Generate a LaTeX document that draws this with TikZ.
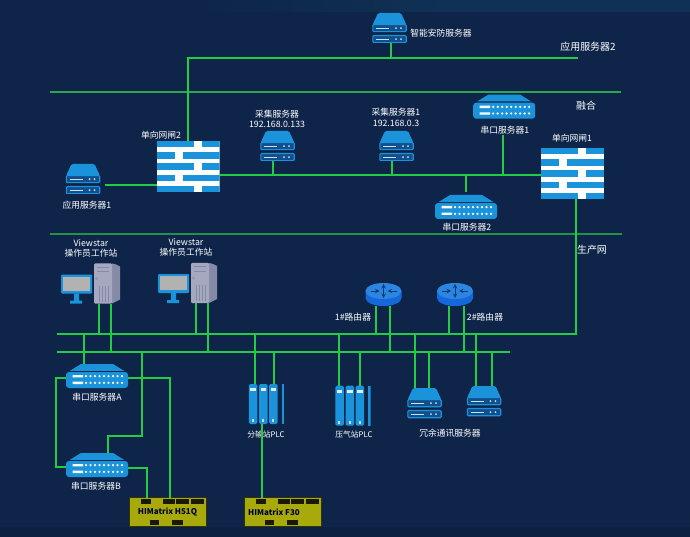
\documentclass[tikz,border=0pt]{standalone}
\usepackage{fontspec}
\setmainfont{Noto Sans CJK SC}
\usepackage{xcolor}
\usepackage{tikz}
\usetikzlibrary{shapes,arrows,positioning,calc}

\definecolor{bgnavy}{HTML}{0E2549}
\definecolor{bgtop}{HTML}{0F3155}
\definecolor{bgbottom}{HTML}{0B2142}
\definecolor{linkgreen}{HTML}{22CC44}
\definecolor{zonegreen}{HTML}{2BA84E}
\definecolor{devblue}{HTML}{1B93DA}
\definecolor{devdark}{HTML}{124F8C}
\definecolor{routerblue}{HTML}{1468DC}
\definecolor{routertop}{HTML}{2A86E0}
\definecolor{routerdark}{HTML}{13386E}
\definecolor{olivebox}{HTML}{A8AA0C}
\definecolor{towerfront}{HTML}{A6A8C0}
\definecolor{towerside}{HTML}{858AA6}

\tikzset{
    servericon/.pic={
        \fill[devblue, rounded corners=1.5bp] (6,0) -- (29,0) -- (34.5,12) -- (0.5,12) -- cycle;
        \foreach \y in {11.5,22.5} {
            \draw[devblue, fill=devdark, line width=1.1bp, rounded corners=1bp] (0.8,\y) rectangle (34.2,\y+7.2);
            \draw[white!75!devblue, line width=0.9bp] (4,\y+3.6) -- (17,\y+3.6);
            \fill[white!75!devblue] (24,\y+3.6) circle (1) (29,\y+3.6) circle (1);
        }
    },
    serialicon/.pic={
        \fill[devblue] (15,0) -- (47,0) -- (58,6.8) -- (4,6.8) -- cycle;
        \fill[devblue, rounded corners=3bp] (0,8) rectangle (62,24);
        \fill[white] (6.5,11) rectangle (17,13.4) (6.5,17.6) rectangle (17,20);
        \foreach \i in {0,...,8} {
            \fill[white] (20+4.5*\i,12.2) circle (1.25) (20+4.5*\i,18.8) circle (1.25);
        }
    },
    gateicon/.pic={
        \fill[white] (0,0) rectangle (63,51);
        \foreach \y in {0,11.3,22.3,33.7,44.7} {
            \fill[devblue] (0,\y) rectangle (63,\y+6.4);
        }
        \foreach \y in {0,22.3,44.7} {
            \fill[white] (37,\y) rectangle (45,\y+6.4);
        }
        \foreach \y in {11.3,33.7} {
            \fill[white] (18,\y) rectangle (26,\y+6.4);
        }
    },
    routericon/.pic={
        \fill[routerblue] (0,8) -- (0,15) arc[start angle=180, end angle=0, x radius=18, y radius=8] -- (36,8) -- cycle;
        \fill[routertop] (18,8) ellipse [x radius=18, y radius=8];
        \draw[routerdark, line width=1bp, ->, >=stealth] (5,8) -- (14,8);
        \draw[routerdark, line width=1bp, ->, >=stealth] (31,8) -- (22,8);
        \draw[routerdark, line width=1bp, <->, >=stealth] (18,1) -- (18,15);
    },
    pcicon/.pic={
        % Monitor
        \fill[devblue, rounded corners=1bp] (0,11) rectangle (31,30);
        \fill[gray!60!white] (2,13) rectangle (29,27);
        \fill[devblue] (13,30) rectangle (18,37) (9,37) rectangle (21,40);
        % Tower
        \fill[towerside] (51,0) -- (55,1) -- (59,3) -- (59,36) -- (51,40) -- cycle;
        \fill[towerfront, rounded corners=1bp] (33,0) rectangle (51,40);
        \draw[towerside, line width=1bp] (36,4) -- (48,4) (36,8) -- (48,8);
        \draw[towerside, line width=0.4bp] (35.5,15) circle (1.2);
        \foreach \x in {38,41,44,47} {
            \draw[towerside, line width=0.4bp] (\x,22) -- (\x,38);
        }
    },
    plcicon/.pic={
        \foreach \x in {0,10.2,20.2} {
            \fill[devblue, rounded corners=1.5bp] (\x,0) rectangle (\x+8.5,40);
            \fill[white!85!devblue] (\x+1.5,4) rectangle (\x+7,7);
            \fill[white!70!devblue] (\x+3,35) rectangle (\x+5,38);
        }
        \fill[devblue] (32.7,0) rectangle (35.3,40);
    },
    himaicon/.pic={
        \foreach \a/\b in {12/22,34/46,47.3/59.5,62.3/74.5} {
            \fill[black!85!olivebox] (\a,1.5) rectangle (\b,6);
        }
        \foreach \a/\b in {21/30,43.3/53.5} {
            \fill[black!85!olivebox] (\a,22.5) rectangle (\b,27);
        }
    }
}

\begin{document}
\begin{tikzpicture}[
    x=1bp, y=-1bp,
    devbox/.style={rectangle, inner sep=0pt, outer sep=0pt},
    serverbox/.style={devbox, minimum width=35bp, minimum height=30bp, path picture={\pic at (path picture bounding box.north west) {servericon};}},
    serialbox/.style={devbox, minimum width=62bp, minimum height=24bp, path picture={\pic at (path picture bounding box.north west) {serialicon};}},
    gatebox/.style={devbox, minimum width=63bp, minimum height=51bp, path picture={\pic at (path picture bounding box.north west) {gateicon};}},
    routerbox/.style={devbox, minimum width=36bp, minimum height=23bp, path picture={\pic at (path picture bounding box.north west) {routericon};}},
    pcbox/.style={devbox, minimum width=59bp, minimum height=40bp, path picture={\pic at (path picture bounding box.north west) {pcicon};}},
    plcbox/.style={devbox, minimum width=35.3bp, minimum height=40bp, path picture={\pic at (path picture bounding box.north west) {plcicon};}},
    himabox/.style={devbox, draw=black!70!olivebox, fill=olivebox, minimum width=77bp, minimum height=29bp, font=\fontsize{8}{11}\selectfont\bfseries, text=black!85!blue, path picture={\pic at (path picture bounding box.north west) {himaicon};}},
    lbl/.style={align=center, inner sep=1pt, text=white, font=\fontsize{8.8}{10.6}\selectfont},
    biglbl/.style={lbl, font=\fontsize{10}{12}\selectfont},
    smalllbl/.style={lbl, font=\fontsize{7.8}{10}\selectfont},
    link/.style={draw=linkgreen, line width=1.6bp},
    zone/.style={draw=zonegreen, line width=1.1bp}
]

% Background
\fill[bgnavy] (0,0) rectangle (690,537);
\useasboundingbox (0,0) rectangle (690,537);
\shade[left color=bgnavy, right color=bgtop, middle color=bgtop] (200,0) rectangle (690,12);
\fill[bgbottom] (0,527) rectangle (690,537);

% Zone lines
\coordinate (zone1w) at (50,92);
\coordinate (zone1e) at (621,92);
\coordinate (zone2w) at (50,234);
\coordinate (zone2e) at (622,234);
\draw[zone] (zone1w) -- (zone1e);
\draw[zone, line width=1.6bp, draw=zonegreen!80!bgnavy] (zone2w) -- (zone2e);

% Upper devices
\node[serverbox] (smartsrv) at (389.5,28) {};
\node[lbl] (smartsrv-label) at (441,33) {智能安防服务器};
\node[biglbl] (appsrv2-label) at (588,47) {应用服务器2};
\node[biglbl] (fusion-label) at (586,106) {融合};
\node[gatebox] (gate2) at (188,166.6) {};
\node[lbl] (gate2-label) at (161,135) {单向网闸2};
\node[gatebox] (gate1) at (572.5,173.5) {};
\node[lbl] (gate1-label) at (572,138) {单向网闸1};
\node[serverbox] (appsrv1) at (83,179) {};
\node[lbl] (appsrv1-label) at (87,205) {应用服务器1};
\node[serverbox] (colsrv) at (277.5,146) {};
\node[lbl] (colsrv-label) at (277,119) {采集服务器\\192.168.0.133};
\node[serverbox] (colsrv1) at (396.5,146) {};
\node[lbl] (colsrv1-label) at (396,117.5) {采集服务器1\\192.168.0.3};
\node[serialbox] (serial1) at (504.2,106.7) {};
\node[lbl] (serial1-label) at (505,130) {串口服务器1};
\node[serialbox] (serial2) at (466,207) {};
\node[lbl] (serial2-label) at (467,227) {串口服务器2};
\node[biglbl] (prod-label) at (592,250) {生产网};

% Lower devices
\node[lbl] (pc1-label) at (91,248.5) {Viewstar\\操作员工作站};
\node[pcbox] (pc1) at (90.5,283.5) {};
\node[lbl] (pc2-label) at (186,247.5) {Viewstar\\操作员工作站};
\node[pcbox] (pc2) at (187.5,283) {};
\node[routerbox] (router1) at (383.5,294.5) {};
\node[lbl] (router1-label) at (353,317) {1\#路由器};
\node[routerbox] (router2) at (455,294.5) {};
\node[lbl] (router2-label) at (485,317) {2\#路由器};
\node[serialbox] (serialA) at (97,376) {};
\node[lbl] (serialA-label) at (97,397) {串口服务器A};
\node[serialbox] (serialB) at (97,465) {};
\node[lbl] (serialB-label) at (96,486) {串口服务器B};
\node[plcbox] (plc1) at (266.5,404) {};
\node[smalllbl] (plc1-label) at (266,435) {分输站PLC};
\node[plcbox] (plc2) at (353,405.7) {};
\node[smalllbl] (plc2-label) at (354,435) {压气站PLC};
\node[serverbox] (redsrv1) at (424.5,403) {};
\node[serverbox] (redsrv2) at (484,401) {};
\node[lbl] (redsrv-label) at (450,433) {冗余通讯服务器};
\node[himabox] (h51q) at (167.5,512) {HIMatrix H51Q};
\node[himabox] (f30) at (282.5,512) {HIMatrix F30\hspace{17bp}\mbox{}};

% Buses
\coordinate (topbus) at (578,58);
\coordinate (midbus) at (380,175);
\coordinate (bus1w) at (57,334);
\coordinate (bus2w) at (57,352);
\coordinate (bus2e) at (510,352);
\coordinate (appsrv1-port) at (105,185);
\coordinate (bendB) at (142,436);
\coordinate (loopw) at (56,420);
\draw[link] (gate2.north) |- (topbus);
\draw[link] (gate2.east |- midbus) -- (gate1.west |- midbus);
\draw[link] ([xshift=3.5bp]gate1.south) |- (bus1w);
\draw[link] (bus2w) -- (bus2e);

% Upper links
\draw[link] ([xshift=1.5bp]smartsrv.south) -- ([xshift=1.5bp]smartsrv.south |- topbus);
\draw[link] (appsrv1-port) -- (gate2.west |- appsrv1-port);
\draw[link] ([xshift=-4.5bp]colsrv.south) -- ([xshift=-4.5bp]colsrv.south |- midbus);
\draw[link] ([xshift=-4.5bp]colsrv1.south) -- ([xshift=-4.5bp]colsrv1.south |- midbus);
\draw[link] ([xshift=-2bp]serial1-label.south) -- ([xshift=-2bp]serial1-label.south |- midbus);
\draw[link] ([yshift=3bp]serial2.north) -- (serial2.north |- midbus);

% Lower links
\draw[link] ([xshift=8.5bp]pc1.south) -- ([xshift=8.5bp]pc1.south |- bus1w);
\draw[link] ([xshift=20.5bp]pc1.south) -- ([xshift=20.5bp]pc1.south |- bus2w);
\draw[link] ([xshift=8.5bp]pc2.south) -- ([xshift=8.5bp]pc2.south |- bus1w);
\draw[link] ([xshift=20.5bp]pc2.south) -- ([xshift=20.5bp]pc2.south |- bus2w);
\draw[link] ([xshift=-7.5bp]router1.south) -- ([xshift=-7.5bp]router1.south |- bus1w);
\draw[link] ([xshift=6.5bp]router1.south) -- ([xshift=6.5bp]router1.south |- bus2w);
\draw[link] ([xshift=-6bp]router2.south) -- ([xshift=-6bp]router2.south |- bus1w);
\draw[link] ([xshift=9bp]router2.south) -- ([xshift=9bp]router2.south |- bus2w);
\draw[link] ([xshift=-13bp]serialA.north) -- ([xshift=-13bp]serialA.north |- bus1w);
\draw[link] ([xshift=-11.5bp]plc1.north) -- ([xshift=-11.5bp]plc1.north |- bus1w);
\draw[link] ([xshift=7.5bp]plc1.north) -- ([xshift=7.5bp]plc1.north |- bus2w);
\draw[link] ([xshift=-14bp]plc2.north) -- ([xshift=-14bp]plc2.north |- bus1w);
\draw[link] ([xshift=7bp]plc2.north) -- ([xshift=7bp]plc2.north |- bus2w);
\draw[link] ([xshift=-9.5bp]redsrv1.north) -- ([xshift=-9.5bp]redsrv1.north |- bus1w);
\draw[link] ([xshift=4.5bp]redsrv1.north) -- ([xshift=4.5bp]redsrv1.north |- bus2w);
\draw[link] ([xshift=-8bp]redsrv2.north) -- ([xshift=-8bp]redsrv2.north |- bus1w);
\draw[link] ([xshift=8bp]redsrv2.north) -- ([xshift=8bp]redsrv2.north |- bus2w);
\draw[link] (bendB |- bus2w) -- (bendB) -| ([xshift=11bp]serialB.north);
\draw[link] ([yshift=-2bp]serialA.west) -| (loopw) |- ([yshift=-2bp]serialB.west);
\draw[link] ([yshift=-2bp]serialA.east) -| ([xshift=2.5bp]h51q.north);
\draw[link] ([yshift=-3bp]serialB.east) -| ([xshift=-20.5bp]h51q.north);
\draw[link] ([xshift=-4.5bp]plc1.south) -- ([xshift=-4.5bp]plc1.south |- f30.north);

\end{tikzpicture}
\end{document}
